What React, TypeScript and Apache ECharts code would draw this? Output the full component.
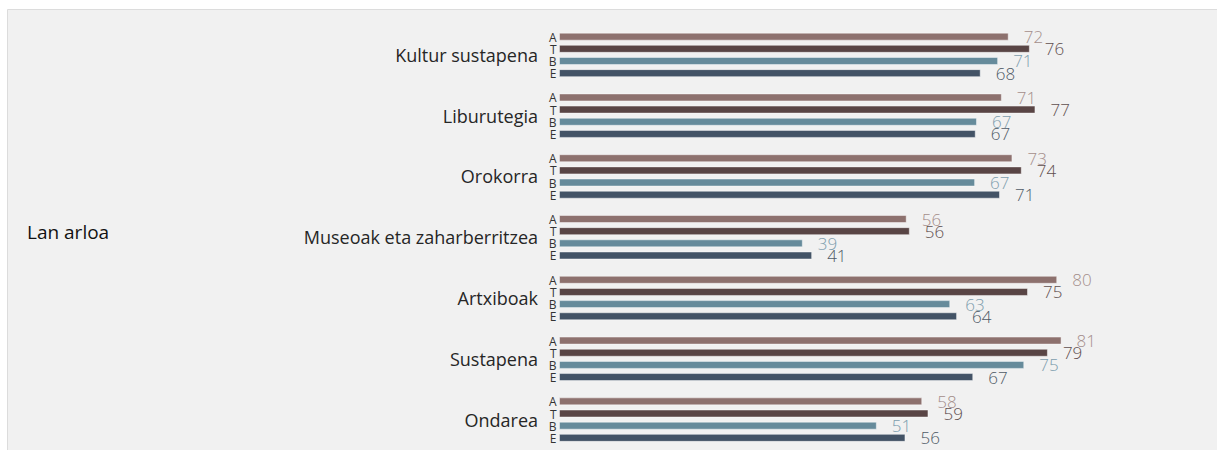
import React, { useEffect, useRef } from "react";
import * as echarts from "echarts";

const categories = [
  "Kultur sustapena",
  "Liburutegia",
  "Orokorra",
  "Museoak eta zaharberritzea",
  "Artxiboak",
  "Sustapena",
  "Ondarea",
];
const seriesNames = ["A", "T", "B", "E"];
const valuesA = [72.3, 71.2, 72.9, 55.9, 80.1, 80.8, 58.4];
const valuesT = [75.7, 76.6, 74.4, 56.4, 75.4, 78.6, 59.4];
const valuesB = [70.6, 67.2, 66.9, 39.2, 62.9, 74.8, 51.1];
const valuesE = [67.8, 67.0, 70.9, 40.7, 64.0, 66.6, 55.7];
const groupTitle = "Lan arloa";

const barColors = ["#8d716e", "#594545", "#668b9b", "#435366"];
const labelColors = ["#a48e8b", "#5f4f4f", "#7d9dad", "#4f5a66"];

const BAR_W = 8;
const BAR_GAP = 0.52;

export default function App() {
  const ref = useRef<HTMLDivElement>(null);
  useEffect(() => {
    if (!ref.current) return;
    const chart = echarts.init(ref.current, null, { renderer: "svg" });
    const all = [valuesA, valuesT, valuesB, valuesE];
    const pitch = BAR_W * (1 + BAR_GAP);
    const barSeries = all.map((vals, k) => ({
      type: "bar",
      name: seriesNames[k],
      data: vals,
      barWidth: BAR_W,
      barGap: BAR_GAP * 100 + "%",
      itemStyle: {
        color: barColors[k],
        borderColor: "rgba(255,255,255,0.45)",
        borderWidth: 1,
      },
      label: {
        show: true,
        position: "right",
        distance: 15,
        formatter: (p: any) => String(Math.round(p.value)),
        color: labelColors[k],
        fontFamily: "'Open Sans', sans-serif",
        fontWeight: 300,
        fontSize: 17,
      },
    }));
    const letterSeries = {
      type: "custom",
      silent: true,
      z: 10,
      data: categories.map((_, i) => [0, i]),
      encode: { x: 0, y: 1 },
      renderItem: (params: any, api: any) => {
        const idx = api.value(1);
        const p = api.coord([0, idx]);
        return {
          type: "group",
          children: seriesNames.map((n, k) => ({
            type: "text",
            x: p[0] - 2.5,
            y: p[1] + (k - 1.5) * pitch + 0.5,
            style: {
              text: n,
              align: "right",
              verticalAlign: "middle",
              fontSize: 12,
              fontFamily: "'Open Sans', sans-serif",
              fill: "#333",
            },
          })),
        };
      },
    };
    chart.setOption({
      animation: false,
      graphic: [
        {
          type: "rect",
          z: -10,
          shape: { x: 7.5, y: 9.5, width: 1300, height: 500 },
          style: { fill: "#f1f1f1", stroke: "#dcdcdc", lineWidth: 1 },
        },
        {
          type: "text",
          left: 27,
          top: 222,
          style: {
            text: groupTitle,
            fontSize: 19,
            fontFamily: "'Open Sans', sans-serif",
            fill: "#111",
          },
        },
      ],
      grid: { left: 559, top: 24.5, width: 622, height: 427 },
      xAxis: { type: "value", min: 0, max: 100, show: false },
      yAxis: {
        type: "category",
        data: categories,
        inverse: true,
        axisLine: { show: false },
        axisTick: { show: false },
        splitLine: { show: false },
        axisLabel: {
          margin: 21,
          fontSize: 18,
          color: "#262626",
          fontFamily: "'Open Sans', sans-serif",
        },
      },
      series: [...barSeries, letterSeries],
    });
    return () => chart.dispose();
  }, []);
  return (
    <div
      ref={ref}
      style={{ position: "absolute", left: 0, top: 0, width: 1217, height: 450 }}
    />
  );
}
